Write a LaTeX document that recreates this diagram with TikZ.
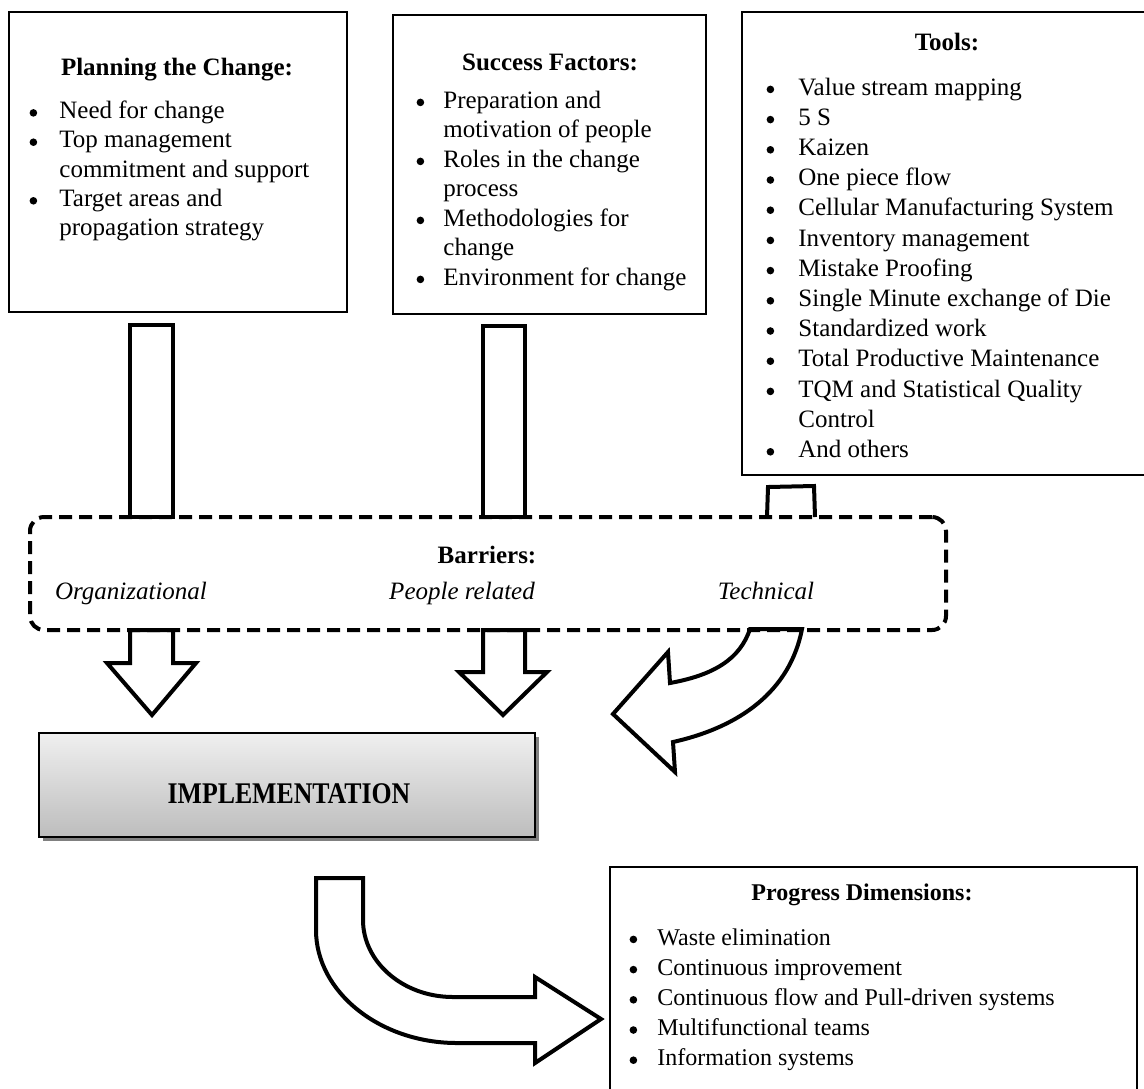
\documentclass[tikz,border=0pt]{standalone}
\usepackage{graphicx}
\usepackage{fontspec}
\setmainfont{Liberation Serif}
\newcommand\bul[1]{\llap{\makebox[4.2pt]{\tikz[baseline=-2.8pt]\fill (0,0) circle (1.9pt);}\hspace{#1}}}
\begin{document}
\begin{tikzpicture}[x=0.5pt,y=-0.5pt,
  box/.style={draw, line width=1pt, inner sep=0pt},
  blk/.style={draw, line width=2pt, line join=miter, fill=white},
  ttl/.style={font=\fontsize{12.5}{15}\selectfont\bfseries, anchor=base, inner sep=0pt},
  lbl/.style={font=\fontsize{12.5}{15}\selectfont\itshape, anchor=base, inner sep=0pt},
  lst/.style={anchor=base west, inner sep=0pt},
]
\useasboundingbox (0,0) rectangle (1144,1088);
\clip (0,0) rectangle (1144,1088);

% boxes
\node[box, minimum width=169pt, minimum height=150pt] (plan) at (178,162) {};
\node[box, minimum width=156.5pt, minimum height=149.5pt] (succ) at (549.5,164.5) {};
\node[box, minimum width=204pt, minimum height=231.5pt] (tools) at (946,243.5) {};
\node[box, minimum width=263.5pt, minimum height=116.5pt] (prog) at (873.5,983.5) {};

% titles
\node[ttl] (plant) at (177,75) {Planning the Change:};
\node[ttl] (succt) at (550,70) {Success Factors:};
\node[ttl] (toolst) at (947,50) {Tools:};
\node[ttl, font=\fontsize{12}{15}\selectfont\bfseries] (progt) at (862,900) {Progress Dimensions:};

% lists
\node[lst, font=\fontsize{12.5}{14.65}\selectfont] (planl) at (59,118.5) {\begin{tabular}[t]{@{}l@{}}
\bul{10.9pt}Need for change\\
\bul{10.9pt}Top management\\
commitment and support\\
\bul{10.9pt}Target areas and\\
propagation strategy\end{tabular}};

\node[lst, font=\fontsize{12.5}{14.75}\selectfont] (succl) at (443,108) {\begin{tabular}[t]{@{}l@{}}
\bul{9.4pt}Preparation and\\
motivation of people\\
\bul{9.4pt}Roles in the change\\
process\\
\bul{9.4pt}Methodologies for\\
change\\
\bul{9.4pt}Environment for change\end{tabular}};

\node[lst, font=\fontsize{12.5}{15.1}\selectfont] (toolsl) at (798,95) {\begin{tabular}[t]{@{}l@{}}
\bul{11.9pt}Value stream mapping\\
\bul{11.9pt}5 S\\
\bul{11.9pt}Kaizen\\
\bul{11.9pt}One piece flow\\
\bul{11.9pt}Cellular Manufacturing System\\
\bul{11.9pt}Inventory management\\
\bul{11.9pt}Mistake Proofing\\
\bul{11.9pt}Single Minute exchange of Die\\
\bul{11.9pt}Standardized work\\
\bul{11.9pt}Total Productive Maintenance\\
\bul{11.9pt}TQM and Statistical Quality\\
Control\\
\bul{11.9pt}And others\end{tabular}};

\node[lst, font=\fontsize{12}{15.1}\selectfont] (progl) at (657,945) {\begin{tabular}[t]{@{}l@{}}
\bul{9.9pt}Waste elimination\\
\bul{9.9pt}Continuous improvement\\
\bul{9.9pt}Continuous flow and Pull-driven systems\\
\bul{9.9pt}Multifunctional teams\\
\bul{9.9pt}Information systems\end{tabular}};

% block arrows into barriers
\draw[blk] (130,517) -- (130,325) -- (173,325) -- (173,517) -- cycle;
\draw[blk] (483,517) -- (483,326) -- (525,326) -- (525,517) -- cycle;
\draw[blk] (767,517) -- (768,487) -- (814,486) -- (815,517);

% block arrows out of barriers
\draw[blk] (130,630) -- (130,663) -- (107,663) -- (152,715) -- (196,663) -- (173,663) -- (173,630) -- cycle;
\draw[blk] (483,630) -- (483,672) -- (459,672) -- (503,715) -- (547,672) -- (525,672) -- (525,630) -- cycle;
\draw[blk] (750,629) .. controls (740,659) and (714,675) .. (670,683) -- (668,652) -- (613,714) -- (675,772) -- (673,742)
  .. controls (740,727) and (790,691) .. (802,629) -- cycle;

% barriers box
\node[draw, line width=2pt, dash pattern=on 6.5pt off 3.5pt, rounded corners=7pt,
  minimum width=458pt, minimum height=56.5pt] (barr) at (488,573.5) {};
\node[ttl] (barrt) at (487,563) {Barriers:};
\node[lbl] (org) at (131,599) {Organizational};
\node[lbl] (peo) at (462,599) {People related};
\node[lbl] (tec) at (766,599) {Technical};

% implementation
\fill[black!50] (43,737) rectangle (539,841);
\node[draw, line width=1pt, top color=black!6, bottom color=black!26, inner sep=0pt,
  minimum width=248pt, minimum height=52pt] (impl) at (287,785) {};
\node[anchor=base, inner sep=0pt, font=\fontsize{15}{18}\selectfont\bfseries] (implt) at (289,803) {\scalebox{0.86}[1]{IMPLEMENTATION}};

% curved arrow to progress
\draw[blk] (316,878) -- (363,878) -- (363,920) .. controls (363,962) and (403,997) .. (453,997) -- (535,997)
  -- (535,977) -- (601,1019) -- (535,1063) -- (535,1043) -- (457,1043)
  .. controls (380,1043) and (316,992) .. (316,930) -- cycle;
\end{tikzpicture}
\end{document}
